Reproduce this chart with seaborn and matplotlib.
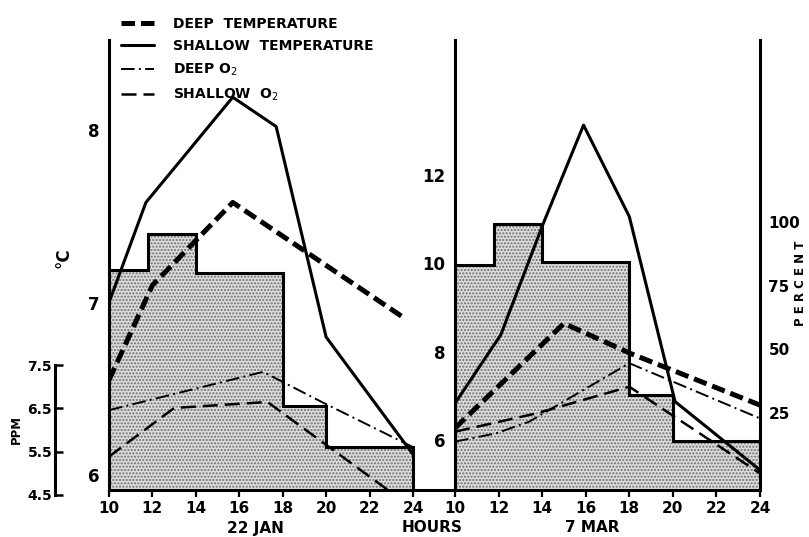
import numpy as np
from matplotlib import use
use('agg')
import matplotlib.pyplot as plt
import seaborn as sns
from matplotlib.lines import Line2D

# ---- data ----
hour_ticks = [10, 12, 14, 16, 18, 20, 22, 24]
step_hours = [10, 11.8, 14, 18, 20, 24]

# 22 JAN (temperature in C, O2 in ppm, shaded steps in percent)
jan_hours_deep_t = [10, 12, 15.7, 23.6]
jan_deep_t = [6.55, 7.10, 7.58, 6.91]
jan_hours_shallow_t = [10, 11.7, 15.7, 17.7, 20.0, 24]
jan_shallow_t = [7.00, 7.58, 8.19, 8.02, 6.80, 6.12]
jan_hours_deep_o2 = [10, 17.1, 19.8, 24]
jan_deep_o2 = [6.45, 7.34, 6.64, 5.59]
jan_hours_shallow_o2 = [10, 13, 17.3, 23.1]
jan_shallow_o2 = [5.37, 6.50, 6.64, 4.50]
jan_step_pct = [81, 95, 80, 28, 12]

# 7 MAR (temperature in C, O2 in percent)
mar_hours_deep_t = [10, 15, 18.1, 24]
mar_deep_t = [6.27, 8.64, 7.95, 6.79]
mar_hours_shallow_t = [10, 12.1, 14.05, 15.9, 18.0, 20.1, 24]
mar_shallow_t = [6.83, 8.38, 10.9, 13.13, 11.06, 6.87, 5.32]
mar_hours_deep_o2 = [10, 11.9, 13.4, 18, 24]
mar_deep_o2 = [13.9, 17.2, 21.7, 44.6, 23.0]
mar_hours_shallow_o2 = [10, 13.75, 18, 24]
mar_shallow_o2 = [17.8, 25.0, 35.4, 1.5]
mar_step_pct = [83, 99, 84, 32, 14]

sns.set_theme(style='white', rc={'axes.edgecolor': 'black', 'text.color': 'black',
	'xtick.color': 'black', 'ytick.color': 'black', 'axes.labelcolor': 'black'})
plt.rcParams['font.family'] = ['DejaVu Sans']
plt.rcParams['hatch.linewidth'] = 1.0

W, H = 809, 537
fig = plt.figure(figsize=(W / 100, H / 100), dpi=100)

def fx(px):
	return px / W

def fy(py):
	return 1 - py / H

styles = {
	'deep_t': dict(color='black', lw=3.6, linestyle=(0, (2.7, 1.2))),
	'shallow_t': dict(color='black', lw=2.2, linestyle='-'),
	'deep_o2': dict(color='black', lw=1.4, linestyle=(0, (7, 2.2, 1, 2.2))),
	'shallow_o2': dict(color='black', lw=1.8, linestyle=(0, (6, 2.8))),
}
SP = 2.2  # spine width

def line(ax, x, y, key):
	sns.lineplot(x=x, y=y, ax=ax, legend=False, **styles[key])

def steps(ax, vals, bottom):
	xs = np.array(step_hours)
	ys = np.append(vals, vals[-1])
	ax.fill_between(xs, ys, bottom, step='post', facecolor='#dcdcdc',
		hatch='.....', edgecolor='#6e6e6e', linewidth=0)
	ox = [xs[0]]
	oy = [bottom]
	for i, v in enumerate(vals):
		ox += [xs[i], xs[i + 1]]
		oy += [v, v]
	ox += [xs[-1]]
	oy += [bottom]
	ax.plot(ox, oy, color='black', lw=SP, solid_joinstyle='miter')

def clean(ax):
	for s in ax.spines.values():
		s.set_visible(False)
	ax.set_xlabel('')
	ax.set_ylabel('')

pct_lim = ((477.2 - 490) / 2.556, (477.2 - 40) / 2.556)

# ---- 22 JAN panel ----
ax_jan = fig.add_axes([fx(109), fy(490), fx(455 - 109), 450 / H])
jan_pct = ax_jan.twinx()
jan_ppm = ax_jan.twinx()
jan_pct.set_zorder(0)
ax_jan.set_zorder(1)
jan_ppm.set_zorder(2)
for a in (ax_jan, jan_ppm):
	a.patch.set_visible(False)

steps(jan_pct, jan_step_pct, pct_lim[0])
jan_pct.set_ylim(pct_lim)
line(ax_jan, jan_hours_deep_t, jan_deep_t, 'deep_t')
line(ax_jan, jan_hours_shallow_t, jan_shallow_t, 'shallow_t')
ax_jan.set_ylim(6 - 15 / 172.5, 8 + 90 / 172.5)
line(jan_ppm, jan_hours_deep_o2, jan_deep_o2, 'deep_o2')
line(jan_ppm, jan_hours_shallow_o2, jan_shallow_o2, 'shallow_o2')
jan_ppm.set_ylim(7.5 - 125 / 43, 7.5 + 325 / 43)

for a in (ax_jan, jan_pct, jan_ppm):
	clean(a)
	a.set_xlim(10, 10 + 346 / 21.71)
jan_pct.set_yticks([])
jan_ppm.set_yticks([])
ax_jan.spines['left'].set_visible(True)
ax_jan.spines['bottom'].set_visible(True)
ax_jan.spines['left'].set_linewidth(SP)
ax_jan.spines['bottom'].set_linewidth(SP)
ax_jan.set_yticks([6, 7, 8])
ax_jan.set_xticks(hour_ticks)

# ---- 7 MAR panel ----
ax_mar = fig.add_axes([fx(455), fy(490), fx(760 - 455), 450 / H])
mar_pct = ax_mar.twinx()
mar_pct.set_zorder(0)
ax_mar.set_zorder(1)
ax_mar.patch.set_visible(False)

steps(mar_pct, mar_step_pct, pct_lim[0])
line(mar_pct, mar_hours_deep_o2, mar_deep_o2, 'deep_o2')
line(mar_pct, mar_hours_shallow_o2, mar_shallow_o2, 'shallow_o2')
mar_pct.set_ylim(pct_lim)
line(ax_mar, mar_hours_deep_t, mar_deep_t, 'deep_t')
line(ax_mar, mar_hours_shallow_t, mar_shallow_t, 'shallow_t')
ax_mar.set_ylim(6 - 50 / 44.17, 12 + 135 / 44.17)

for a in (ax_mar, mar_pct):
	clean(a)
	a.set_xlim(10, 24)
ax_mar.spines['left'].set_visible(True)
ax_mar.spines['bottom'].set_visible(True)
mar_pct.spines['right'].set_visible(True)
for s in (ax_mar.spines['left'], ax_mar.spines['bottom'], mar_pct.spines['right']):
	s.set_linewidth(SP)
ax_mar.set_yticks([6, 8, 10, 12])
mar_pct.set_yticks([25, 50, 75, 100])
ax_mar.set_xticks(hour_ticks)

for a in (ax_jan, ax_mar):
	a.tick_params(axis='x', direction='out', length=5, width=1.6, pad=3,
		bottom=True, labelsize=11, color='black')
	a.tick_params(axis='y', length=0, pad=7, labelsize=12, left=True)
	for t in a.get_xticklabels() + a.get_yticklabels():
		t.set_fontweight('bold')
mar_pct.tick_params(axis='y', length=0, pad=6, labelsize=11, right=True)
for t in mar_pct.get_yticklabels():
	t.set_fontweight('bold')

# ---- PPM scale on the far left ----
ax_ppm = fig.add_axes([fx(55), fy(495), 0.02, 130 / H])
clean(ax_ppm)
ax_ppm.patch.set_visible(False)
ax_ppm.spines['left'].set_visible(True)
ax_ppm.spines['left'].set_linewidth(SP)
ax_ppm.set_ylim(4.5, 7.5)
ax_ppm.set_yticks([4.5, 5.5, 6.5, 7.5])
ax_ppm.set_yticklabels(['4.5', '5.5', '6.5', '7.5'])
ax_ppm.set_xticks([])
ax_ppm.tick_params(axis='y', direction='in', length=6, width=1.8, pad=2,
	labelsize=10, left=True)
for t in ax_ppm.get_yticklabels():
	t.set_fontweight('bold')

# ---- labels ----
txt = dict(fontweight='bold', color='black')
fig.text(fx(64), fy(258), '°C', rotation=90, fontsize=12, ha='center', va='center', **txt)
fig.text(fx(16), fy(430), 'PPM', rotation=90, fontsize=8.5, ha='center', va='center', **txt)
fig.text(fx(801), fy(283), 'P E R C E N T', rotation=90, fontsize=8.5, ha='center', va='center', **txt)
fig.text(fx(255), fy(528), '22 JAN', fontsize=11, ha='center', va='center', **txt)
fig.text(fx(432), fy(528), 'HOURS', fontsize=11, ha='center', va='center', **txt)
fig.text(fx(592), fy(528), '7 MAR', fontsize=11, ha='center', va='center', **txt)

# ---- legend ----
handles = [Line2D([], [], **styles[k]) for k in ('deep_t', 'shallow_t', 'deep_o2', 'shallow_o2')]
labels = ['DEEP  TEMPERATURE', 'SHALLOW  TEMPERATURE', 'DEEP O$_2$', 'SHALLOW  O$_2$']
fig.legend(handles, labels, loc='upper left', bbox_to_anchor=(fx(108), fy(4)),
	frameon=False, handlelength=2.4, handletextpad=1.4, labelspacing=0.62,
	prop=dict(size=10, weight='bold'))

plt.savefig('out.png', dpi=100)
